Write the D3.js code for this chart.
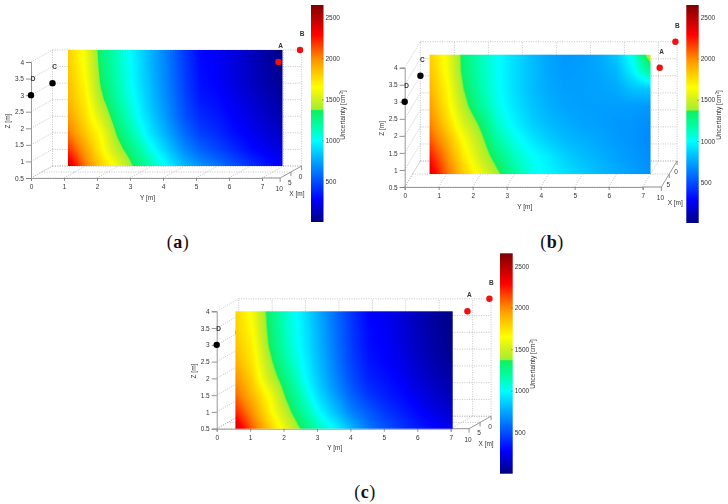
<!DOCTYPE html>
<html>
<head>
<meta charset="utf-8">
<script src="https://cdn.jsdelivr.net/npm/d3@7"></script>
<style>
  html, body { margin: 0; padding: 0; background: #fff; }
  svg { display: block; }
  text { font-family: "Liberation Sans", Arial, sans-serif; fill: #333; }
  .soft { filter: blur(0.35px); }
  .caption { font-family: "Liberation Serif", serif; fill: #111; font-size: 18px; letter-spacing: 0.5px; }
</style>
</head>
<body>
<svg id="chart" width="728" height="504"></svg>
<script>
const yTicks = [0, 1, 2, 3, 4, 5, 6, 7];
const zTicks = [0.5, 1, 1.5, 2, 2.5, 3, 3.5, 4];
const xTicks = [0, 5, 10];
const barTicks = [500, 1000, 1500, 2000, 2500];

// plane grid: one value per Y position, rows run from Z=4 down to Z=0.5
const planeY = [0.5, 1, 1.5, 2, 2.5, 3, 3.5, 4, 4.5, 5, 5.5, 6, 6.5, 7];
const planeZ = [4, 3.5, 3, 2.5, 2, 1.5, 1, 0.5];

const gridA = [
  [1800, 1620, 1300, 1120, 960, 790, 630, 450, 300, 260, 210, 150, 80, 25],
  [1820, 1640, 1320, 1130, 970, 800, 640, 460, 310, 270, 215, 155, 90, 40],
  [1850, 1670, 1350, 1150, 980, 810, 650, 470, 320, 280, 220, 160, 100, 55],
  [1880, 1710, 1410, 1180, 1010, 830, 670, 490, 350, 310, 250, 190, 130, 85],
  [1950, 1760, 1520, 1250, 1050, 870, 700, 520, 400, 350, 280, 220, 160, 110],
  [2050, 1830, 1640, 1340, 1130, 930, 760, 590, 460, 400, 320, 260, 200, 150],
  [2200, 1950, 1690, 1440, 1240, 1040, 860, 680, 560, 480, 400, 310, 250, 210],
  [2430, 2060, 1800, 1600, 1350, 1170, 990, 810, 700, 620, 520, 430, 340, 270]
];
const gridB = [
  [1800, 1620, 1310, 1130, 1010, 910, 820, 750, 710, 720, 760, 850, 1050, 1500],
  [1840, 1640, 1320, 1140, 1010, 910, 820, 750, 720, 730, 750, 800, 980, 1220],
  [1890, 1680, 1370, 1160, 1020, 910, 820, 760, 730, 730, 740, 760, 830, 850],
  [1950, 1720, 1430, 1210, 1040, 930, 840, 780, 740, 730, 730, 730, 730, 710],
  [2020, 1790, 1530, 1330, 1090, 970, 870, 810, 770, 740, 730, 710, 700, 680],
  [2120, 1900, 1640, 1420, 1180, 1040, 940, 860, 810, 780, 750, 720, 700, 670],
  [2260, 2000, 1720, 1490, 1290, 1120, 1020, 950, 870, 820, 780, 740, 710, 680],
  [2390, 2080, 1820, 1600, 1400, 1200, 1040, 980, 920, 860, 810, 770, 730, 690]
];
const gridC = [
  [1780, 1620, 1310, 1100, 950, 760, 580, 420, 280, 250, 190, 120, 60, 15],
  [1800, 1650, 1330, 1110, 960, 780, 600, 430, 300, 260, 200, 130, 70, 25],
  [1840, 1690, 1360, 1130, 970, 790, 610, 440, 310, 270, 210, 140, 80, 35],
  [1890, 1730, 1420, 1180, 1000, 810, 630, 460, 335, 285, 230, 160, 100, 55],
  [1980, 1790, 1490, 1270, 1040, 840, 660, 490, 370, 320, 260, 190, 130, 85],
  [2080, 1870, 1640, 1350, 1120, 900, 720, 550, 430, 360, 300, 230, 170, 120],
  [2220, 1980, 1710, 1450, 1210, 1000, 820, 640, 530, 430, 360, 290, 220, 170],
  [2430, 2100, 1830, 1580, 1340, 1130, 980, 790, 620, 520, 430, 350, 290, 230]
];

const pointNames = ["A", "B", "C", "D"];
const pointX = [10, 0, 0, 10];
const pointY = [7.5, 7.5, 0, 0];
const pointZ = [4, 4, 3, 3];
const pointColors = ["#f01010", "#f01010", "#000", "#000"];

// jet-like colorbar, with the step near 1370
const cmapValues = [5, 280, 1000, 1150, 1365, 1375, 1500, 1650, 1850, 2000, 2290, 2650];
const cmapColors = ["#000080", "#0000ff", "#00ffff", "#00ffb0", "#10f060", "#a0f030", "#d0f020", "#ffff00", "#ffc000", "#ff8c00", "#ff0000", "#800000"];

const color = d3.scaleLinear().domain(cmapValues).range(cmapColors).clamp(true);

const panels = [
  { grid: gridA, planeX: 0, shift: -1, left: 31, right: 262, top: 62, bottom: 178, depth: [21.5, -12], bar: [311, 323.5, 5, 222], bar2500: 17.3, bar500: 181.3, labelX: 345, labelY: 115, cap: "a", capX: 178, capY: 248 },
  { grid: gridB, planeX: 5, shift: 0, left: 404.7, right: 642.7, top: 67.7, bottom: 187, depth: [15.7, -26], bar: [686.3, 698.7, 5, 223], bar2500: 17.3, bar500: 182.3, labelX: 720.7, labelY: 115, cap: "b", capX: 552, capY: 248 },
  { grid: gridC, planeX: 10, shift: 2, left: 216.7, right: 450.7, top: 311.3, bottom: 428.7, depth: [22, -12.5], bar: [500, 512.7, 253.3, 473.7], bar2500: 266, bar500: 432.3, labelX: 534.7, labelY: 364, cap: "c", capX: 365, capY: 498 }
];

const svg = d3.select("#chart");

panels.forEach(drawPanel);

function sampleGrid(grid, y, z) {
  const cx = (y - planeY[0]) / 0.5;
  const cz = (planeZ[0] - z) / 0.5;
  const i = Math.min(Math.floor(cx), planeY.length - 2);
  const j = Math.min(Math.floor(cz), planeZ.length - 2);
  const tx = cx - i, tz = cz - j;
  const a = grid[j][i] * (1 - tx) + grid[j][i + 1] * tx;
  const b = grid[j + 1][i] * (1 - tx) + grid[j + 1][i + 1] * tx;
  return a * (1 - tz) + b * tz;
}

function drawPanel(p) {
  const g = svg.append("g").attr("class", "soft");
  const y = d3.scaleLinear().domain([0, 7]).range([p.left, p.right]);
  const z = d3.scaleLinear().domain([0.5, 4]).range([p.bottom, p.top]);
  const depthX = d3.scaleLinear().domain([10, 0]).range([0, p.depth[0]]);
  const depthY = d3.scaleLinear().domain([10, 0]).range([0, p.depth[1]]);
  const yEnd = y(7) + (y(7) - y(0)) / 7 * 0.55;

  const grid = g.append("g").attr("fill", "none").attr("stroke", "#aaa")
    .attr("stroke-width", 0.7).attr("stroke-dasharray", "1 1.4");

  // dotted box: floor, back wall and left wall
  yTicks.forEach(t => {
    grid.append("line").attr("x1", y(t)).attr("y1", p.bottom)
      .attr("x2", y(t) + depthX(0)).attr("y2", p.bottom + depthY(0));
    grid.append("line").attr("x1", y(t) + depthX(0)).attr("y1", p.bottom + depthY(0))
      .attr("x2", y(t) + depthX(0)).attr("y2", p.top + depthY(0));
  });
  zTicks.forEach(t => {
    grid.append("line").attr("x1", y(0)).attr("y1", z(t))
      .attr("x2", y(0) + depthX(0)).attr("y2", z(t) + depthY(0));
    grid.append("line").attr("x1", y(0) + depthX(0)).attr("y1", z(t) + depthY(0))
      .attr("x2", yEnd + depthX(0)).attr("y2", z(t) + depthY(0));
  });
  xTicks.forEach(t => {
    grid.append("line").attr("x1", y(0) + depthX(t)).attr("y1", p.bottom + depthY(t))
      .attr("x2", yEnd + depthX(t)).attr("y2", p.bottom + depthY(t));
  });
  grid.append("line").attr("x1", yEnd + depthX(0)).attr("y1", p.bottom + depthY(0))
    .attr("x2", yEnd + depthX(0)).attr("y2", p.top + depthY(0));

  // axes
  const yAxis = d3.axisBottom(y).tickValues(yTicks).tickSize(3).tickPadding(3.5).tickFormat(d3.format("d"));
  const zAxis = d3.axisLeft(z).tickValues(zTicks).tickSize(5).tickPadding(2).tickFormat(d => d);
  const yg = g.append("g").attr("transform", `translate(0,${p.bottom})`).call(yAxis);
  const zg = g.append("g").attr("transform", `translate(${p.left},0)`).call(zAxis);
  [yg, zg].forEach(a => {
    a.selectAll("text").attr("font-size", 6.5);
    a.selectAll("line").attr("stroke", "#777").attr("stroke-width", 0.8);
    a.select(".domain").attr("stroke", "#999").attr("stroke-width", 1);
  });
  g.append("line").attr("x1", y(7)).attr("y1", p.bottom).attr("x2", yEnd).attr("y2", p.bottom)
    .attr("stroke", "#999");
  g.append("line").attr("x1", yEnd).attr("y1", p.bottom)
    .attr("x2", yEnd + depthX(0)).attr("y2", p.bottom + depthY(0)).attr("stroke", "#999");

  xTicks.forEach(t => {
    const px = yEnd + depthX(t), py = p.bottom + depthY(t);
    g.append("line").attr("x1", px).attr("y1", py).attr("x2", px).attr("y2", py + 4).attr("stroke", "#777").attr("stroke-width", 0.8);
    g.append("text").attr("x", px - 1).attr("y", py + 13).attr("text-anchor", "middle").attr("font-size", 6.5).text(t);
  });

  g.append("text").attr("x", (y(0) + y(7)) / 2 + 1).attr("y", p.bottom + 21.5)
    .attr("text-anchor", "middle").attr("font-size", 6.5).text("Y [m]");
  g.append("text").attr("transform", `translate(${p.left - 21},${(z(0.5) + z(4)) / 2 + 1}) rotate(-90)`)
    .attr("text-anchor", "middle").attr("font-size", 6.5).text("Z [m]");
  g.append("text").attr("x", yEnd + depthX(5) + 6).attr("y", p.bottom + 17.5)
    .attr("text-anchor", "middle").attr("font-size", 6.5).text("X [m]");

  const drawPoint = i => {
    const px = y(pointY[i]) + depthX(pointX[i]);
    const py = z(pointZ[i]) + depthY(pointX[i]);
    g.append("circle").attr("cx", px).attr("cy", py).attr("r", 3.2).attr("fill", pointColors[i]);
    g.append("text").attr("x", px + 2).attr("y", py - 14).attr("text-anchor", "middle")
      .attr("font-size", 6.5).attr("font-weight", "bold").text(pointNames[i]);
  };

  // points behind the plane come first
  pointNames.forEach((n, i) => { if (pointX[i] <= p.planeX) drawPoint(i); });

  // plane, sampled per pixel and coloured through the colour scale
  const x0 = y(planeY[0]) + depthX(p.planeX) + p.shift;
  const x1 = y(planeY[planeY.length - 1]) + depthX(p.planeX) + p.shift;
  const y0 = z(4) + depthY(p.planeX);
  const y1 = z(0.5) + depthY(p.planeX);
  const w = Math.round(x1 - x0) * 2, h = Math.round(y1 - y0) * 2;
  const canvas = document.createElement("canvas");
  canvas.width = w; canvas.height = h;
  const ctx = canvas.getContext("2d");
  const img = ctx.createImageData(w, h);
  for (let r = 0; r < h; r++) {
    for (let c = 0; c < w; c++) {
      const v = sampleGrid(p.grid, 0.5 + 6.5 * (c + 0.5) / w, 4 - 3.5 * (r + 0.5) / h);
      const col = d3.rgb(color(v));
      const k = (r * w + c) * 4;
      img.data[k] = col.r; img.data[k + 1] = col.g; img.data[k + 2] = col.b; img.data[k + 3] = 255;
    }
  }
  ctx.putImageData(img, 0, 0);
  g.append("image").attr("x", x0).attr("y", y0).attr("width", x1 - x0).attr("height", y1 - y0)
    .attr("preserveAspectRatio", "none").attr("href", canvas.toDataURL());

  pointNames.forEach((n, i) => { if (pointX[i] > p.planeX) drawPoint(i); });

  // colorbar
  const [bx0, bx1, by0, by1] = p.bar;
  const bar = d3.scaleLinear().domain([500, 2500]).range([p.bar500, p.bar2500]);
  const barH = Math.round(by1 - by0) * 2;
  const cb = document.createElement("canvas");
  cb.width = 1; cb.height = barH;
  const cbx = cb.getContext("2d");
  for (let r = 0; r < barH; r++) {
    cbx.fillStyle = color(bar.invert(by0 + (r + 0.5) / 2));
    cbx.fillRect(0, r, 1, 1);
  }
  g.append("image").attr("x", bx0).attr("y", by0).attr("width", bx1 - bx0).attr("height", by1 - by0)
    .attr("preserveAspectRatio", "none").attr("href", cb.toDataURL());
  const barAxis = d3.axisRight(bar).tickValues(barTicks).tickSize(-1.5).tickPadding(2).tickFormat(d3.format("d"));
  const bg = g.append("g").attr("transform", `translate(${bx1},0)`).call(barAxis);
  bg.select(".domain").remove();
  bg.selectAll("text").attr("font-size", 6.5);
  bg.selectAll("line").attr("stroke", "#555").attr("stroke-width", 0.6);
  const lab = g.append("text").attr("transform", `translate(${p.labelX},${p.labelY}) rotate(-90)`)
    .attr("text-anchor", "middle").attr("font-size", 6.5).text("Uncertainty [cm");
  lab.append("tspan").attr("font-size", 4.5).attr("dy", -2).text("3");
  lab.append("tspan").attr("dy", 2).text("]");

  // caption
  const cap = svg.append("text").attr("class", "caption").attr("x", p.capX).attr("y", p.capY).attr("text-anchor", "middle").text("(");
  cap.append("tspan").attr("font-weight", "bold").text(p.cap);
  cap.append("tspan").text(")");
}
</script>
</body>
</html>
